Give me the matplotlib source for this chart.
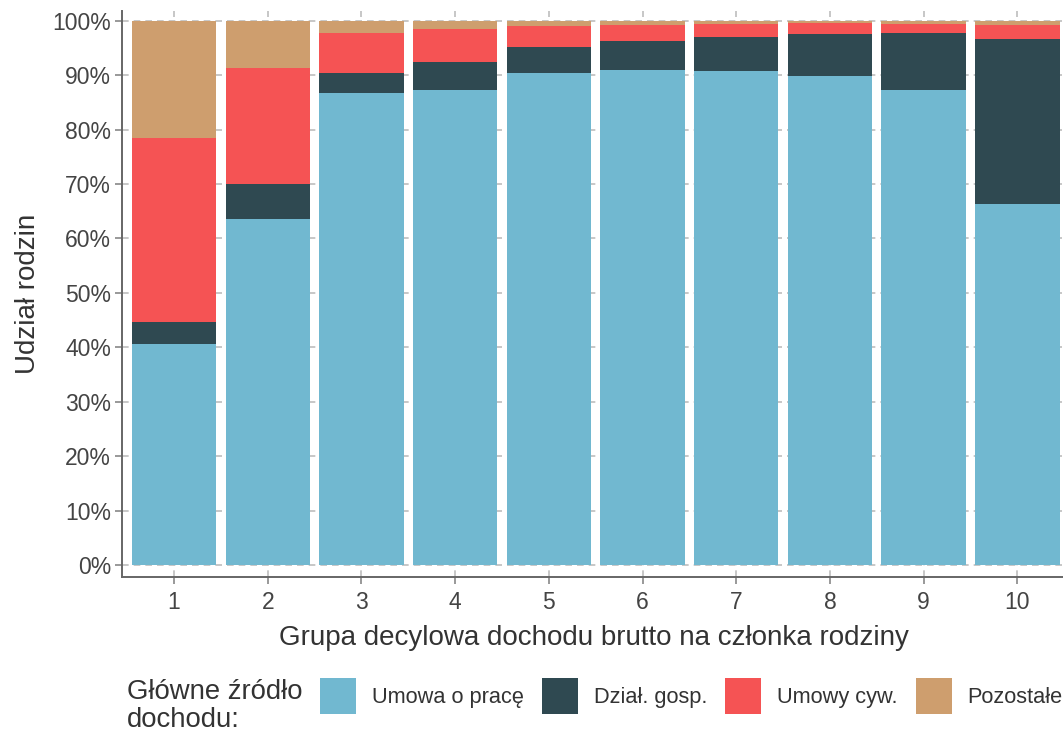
import matplotlib
matplotlib.use("Agg")
import matplotlib.pyplot as plt
import numpy as np
from matplotlib.patches import Patch

plt.rcParams['font.family'] = ['Liberation Sans', 'DejaVu Sans']

groups = ['1', '2', '3', '4', '5', '6', '7', '8', '9', '10']
series = ['Umowa o pracę', 'Dział. gosp.', 'Umowy cyw.', 'Pozostałe']
colors = ['#71B8D0', '#2F4951', '#F55354', '#CE9E6E']

umowa_o_prace = [40.7, 63.6, 86.8, 87.3, 90.4, 90.9, 90.8, 89.8, 87.2, 66.4]
dzial_gosp    = [ 4.0,  6.4,  3.6,  5.1,  4.8,  5.4,  6.3,  7.8, 10.6, 30.2]
umowy_cyw     = [33.8, 21.4,  7.3,  6.1,  3.8,  3.0,  2.4,  2.0,  1.7,  2.7]
pozostale     = [21.5,  8.6,  2.3,  1.5,  1.0,  0.7,  0.5,  0.4,  0.5,  0.7]

data = [umowa_o_prace, dzial_gosp, umowy_cyw, pozostale]

fig = plt.figure(figsize=(10.63, 7.34), dpi=100)
ax = fig.add_axes([122/1063, 1-577/734, 1-122/1063 + 0.002, (577-11)/734])

x = np.arange(1, len(groups) + 1)
bottom = np.zeros(len(groups))
for vals, col, name in zip(data, colors, series):
    v = np.array(vals) / 100.0
    ax.bar(x, v, width=0.9, bottom=bottom, color=col, label=name, zorder=2, linewidth=0)
    bottom += v

ax.set_xlim(0.445, 10.51)
ax.set_ylim(-0.022, 1.018)
ax.set_yticks(np.arange(0, 1.01, 0.1))
ax.set_yticklabels([f"{int(round(t*100))}%" for t in np.arange(0, 1.01, 0.1)])
ax.set_xticks(x)
ax.set_xticklabels(groups)

ax.grid(True, which='major', color='#BEBEBE', linestyle=(0, (4, 3)), linewidth=1.2, zorder=0)
ax.set_axisbelow(True)

for s in ['top', 'right']:
    ax.spines[s].set_visible(False)
for s in ['left', 'bottom']:
    ax.spines[s].set_color('#666666')
    ax.spines[s].set_linewidth(1.4)

ax.tick_params(axis='both', colors='#888888', length=5, width=1.2, labelsize=16.5, labelcolor='#444444')
ax.tick_params(axis='y', pad=3)
ax.tick_params(axis='x', pad=5)

ax.set_ylabel('Udział rodzin', fontsize=20, color='#333333', labelpad=8)
ax.set_xlabel('Grupa decylowa dochodu brutto na członka rodziny', fontsize=20, color='#333333', labelpad=8)

fig.text(127/1063, 1-706/734, 'Główne źródło\ndochodu:', fontsize=19.8, color='#333333',
         ha='left', va='center', linespacing=1.08)

handles = [Patch(facecolor=c, edgecolor='none') for c in colors]
fig.legend(handles, series, loc='center left', bbox_to_anchor=(320/1063, 1-696/734),
           ncol=4, frameon=False, fontsize=15.7, handlelength=1.65, handleheight=2.16,
           handletextpad=0.73, columnspacing=0.83, borderpad=0, borderaxespad=0,
           labelcolor='#333333')

fig.savefig('out.png', dpi=100)
